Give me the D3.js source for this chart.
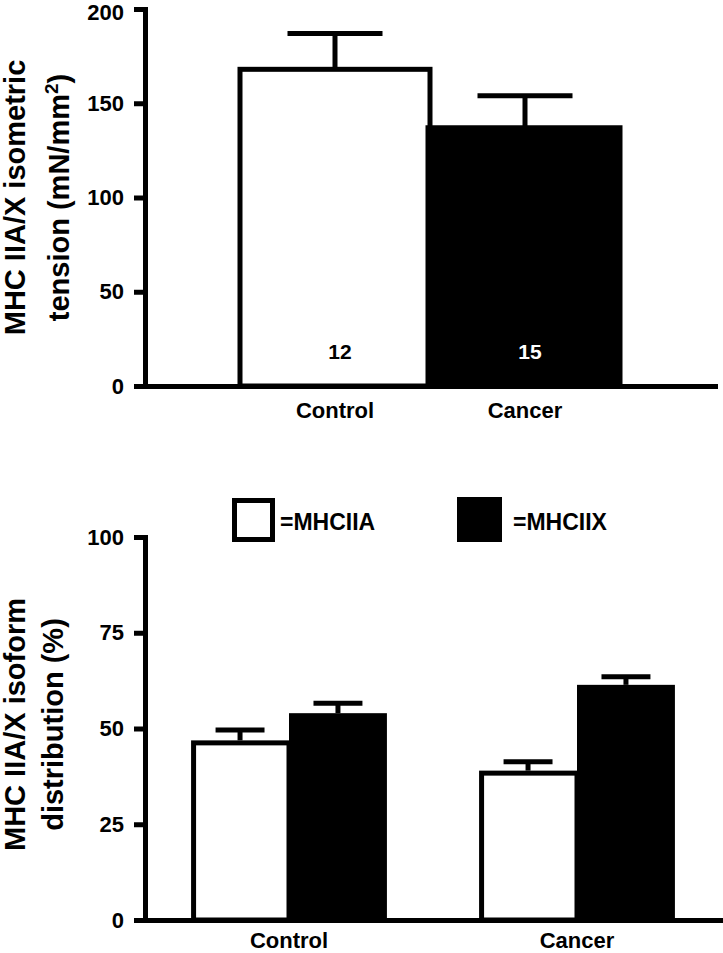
<!DOCTYPE html>
<html>
<head>
<meta charset="utf-8">
<script src="https://cdn.jsdelivr.net/npm/d3@7"></script>
<style>
  body { margin: 0; background: #fff; }
  svg { display: block; }
  text { font-family: "Liberation Sans", Arial, Helvetica, sans-serif; font-weight: bold; fill: #000; }
</style>
</head>
<body>
<svg id="chart" width="723" height="953"></svg>
<script>
// ---------- Data ----------
const topCategories = ["Control", "Cancer"];
const topMeans = [168, 137];
const topErrors = [19, 17];
const topN = ["12", "15"];
const topTicks = [0, 50, 100, 150, 200];

const bottomCategories = ["Control", "Cancer"];
const isoforms = ["MHCIIA", "MHCIIX"];
const legendLabels = ["=MHCIIA", "=MHCIIX"];
const mhcIIAValues = [46.9, 39.0];
const mhcIIAErrors = [2.7, 2.3];
const mhcIIXValues = [54.0, 61.4];
const mhcIIXErrors = [2.6, 2.1];
const bottomTicks = [0, 25, 50, 75, 100];

const isoFill = { MHCIIA: "#fff", MHCIIX: "#000" };

const svg = d3.select("#chart");
const SW = 5;
const axisX = 145;

function styleAxis(g) {
  g.select(".domain").attr("stroke", "#000").attr("stroke-width", SW).attr("stroke-linecap", "square");
  g.selectAll(".tick line").attr("stroke", "#000").attr("stroke-width", SW);
  g.selectAll(".tick text").attr("font-size", 22).attr("font-family", "'Liberation Sans', Arial, sans-serif").attr("font-weight", "bold").attr("fill", "#000");
}

// ---------- Top chart ----------
{
  const y = d3.scaleLinear().domain([0, 200]).range([386, 9]);
  const x = d3.scaleBand().domain(topCategories).range([axisX, 715]).paddingInner(0).paddingOuter(0.5);

  const yAxis = svg.append("g").attr("transform", `translate(${axisX},0)`)
    .call(d3.axisLeft(y).tickValues(topTicks).tickSize(11).tickSizeOuter(0).tickPadding(10));
  styleAxis(yAxis);
  // keep the topmost label inside the page
  yAxis.selectAll(".tick text").filter(d => d === 200).attr("dy", "0.48em");

  const data = topCategories.map((c, i) => ({ c, v: topMeans[i], e: topErrors[i], n: topN[i], i }));
  const fills = ["#fff", "#000"];

  data.forEach(d => {
    const cx = x(d.c) + x.bandwidth() / 2;
    const capW = x.bandwidth() / 2;
    svg.append("line").attr("x1", cx).attr("x2", cx).attr("y1", y(d.v)).attr("y2", y(d.v + d.e))
      .attr("stroke", "#000").attr("stroke-width", SW);
    svg.append("line").attr("x1", cx - capW / 2).attr("x2", cx + capW / 2).attr("y1", y(d.v + d.e)).attr("y2", y(d.v + d.e))
      .attr("stroke", "#000").attr("stroke-width", SW);
  });

  svg.selectAll(".topbar").data(data).join("rect")
    .attr("x", d => x(d.c) + (d.i === 0 ? 0 : -2))
    .attr("y", d => y(d.v))
    .attr("width", d => x.bandwidth() + (d.i === 0 ? 0 : 2))
    .attr("height", d => y(0) - y(d.v))
    .attr("fill", d => fills[d.i])
    .attr("stroke", "#000").attr("stroke-width", SW);

  svg.selectAll(".ntext").data(data).join("text")
    .attr("x", d => x(d.c) + x.bandwidth() / 2 + 5)
    .attr("y", 359)
    .attr("text-anchor", "middle")
    .attr("font-size", 21)
    .style("fill", d => d.i === 0 ? "#000" : "#fff")
    .text(d => d.n);

  const xAxis = svg.append("g").attr("transform", `translate(0,${y(0)})`)
    .call(d3.axisBottom(x).tickSize(0).tickSizeOuter(0).tickPadding(16));
  styleAxis(xAxis);
  xAxis.selectAll(".tick text").attr("font-size", 22).attr("dy", "0.71em");

  const ylab = svg.append("text").attr("transform", `translate(0,${(y(0) + y(200)) / 2}) rotate(-90)`)
    .attr("text-anchor", "middle").attr("font-size", 29);
  ylab.append("tspan").attr("x", 0).attr("y", 25).text("MHC IIA/X isometric");
  const l2 = ylab.append("tspan").attr("x", 0).attr("y", 69);
  l2.append("tspan").text("tension (mN/mm");
  l2.append("tspan").attr("dy", -11).attr("font-size", 19).text("2");
  l2.append("tspan").attr("dy", 11).text(")");
}

// ---------- Bottom chart ----------
{
  const y = d3.scaleLinear().domain([0, 100]).range([920, 537]);
  const x0 = d3.scaleBand().domain(bottomCategories).range([axisX, 721]).paddingInner(0.32).paddingOuter(0.16);
  const x1 = d3.scaleBand().domain(isoforms).range([0, x0.bandwidth()]).padding(0);

  const yAxis = svg.append("g").attr("transform", `translate(${axisX},0)`)
    .call(d3.axisLeft(y).tickValues(bottomTicks).tickSize(11).tickSizeOuter(0).tickPadding(10));
  styleAxis(yAxis);

  const rows = [];
  bottomCategories.forEach((c, i) => {
    rows.push({ c, iso: "MHCIIA", v: mhcIIAValues[i], e: mhcIIAErrors[i] });
    rows.push({ c, iso: "MHCIIX", v: mhcIIXValues[i], e: mhcIIXErrors[i] });
  });

  rows.forEach(d => {
    const bx = x0(d.c) + x1(d.iso);
    const cx = bx + x1.bandwidth() / 2;
    const capW = x1.bandwidth() / 2;
    svg.append("line").attr("x1", cx).attr("x2", cx).attr("y1", y(d.v)).attr("y2", y(d.v + d.e))
      .attr("stroke", "#000").attr("stroke-width", SW);
    svg.append("line").attr("x1", cx - capW / 2).attr("x2", cx + capW / 2).attr("y1", y(d.v + d.e)).attr("y2", y(d.v + d.e))
      .attr("stroke", "#000").attr("stroke-width", SW);
  });

  svg.selectAll(".botbar").data(rows).join("rect")
    .attr("x", d => x0(d.c) + x1(d.iso) + (d.iso === "MHCIIA" ? 2.5 : 0))
    .attr("y", d => y(d.v) + (d.iso === "MHCIIA" ? 2.5 : 0))
    .attr("width", d => x1.bandwidth() - (d.iso === "MHCIIA" ? 2.5 : 0))
    .attr("height", d => y(0) - y(d.v) - (d.iso === "MHCIIA" ? 2.5 : 0))
    .attr("fill", d => isoFill[d.iso])
    .attr("stroke", d => d.iso === "MHCIIA" ? "#000" : "none")
    .attr("stroke-width", SW);

  const xAxis = svg.append("g").attr("transform", `translate(0,${y(0)})`)
    .call(d3.axisBottom(x0).tickSize(0).tickSizeOuter(0).tickPadding(12));
  styleAxis(xAxis);
  xAxis.selectAll(".tick text").attr("font-size", 22).attr("dy", "0.71em");

  const ylab = svg.append("text").attr("transform", `translate(0,${(y(0) + y(100)) / 2 - 4}) rotate(-90)`)
    .attr("text-anchor", "middle").attr("font-size", 29);
  ylab.append("tspan").attr("x", 0).attr("y", 25).text("MHC IIA/X isoform");
  ylab.append("tspan").attr("x", 0).attr("y", 63).text("distribution (%)");

  const legendPos = [{ bx: 232, tx: 280 }, { bx: 457, tx: 513 }];
  isoforms.forEach((iso, i) => {
    const p = legendPos[i];
    if (iso === "MHCIIA") {
      svg.append("rect").attr("x", p.bx + 2.5).attr("y", 500.5).attr("width", 38).attr("height", 39)
        .attr("fill", "#fff").attr("stroke", "#000").attr("stroke-width", SW);
    } else {
      svg.append("rect").attr("x", p.bx).attr("y", 497).attr("width", 45).attr("height", 45)
        .attr("fill", "#000");
    }
    svg.append("text").attr("x", p.tx).attr("y", 530).attr("font-size", 23).text(legendLabels[i]);
  });
}
</script>
</body>
</html>
